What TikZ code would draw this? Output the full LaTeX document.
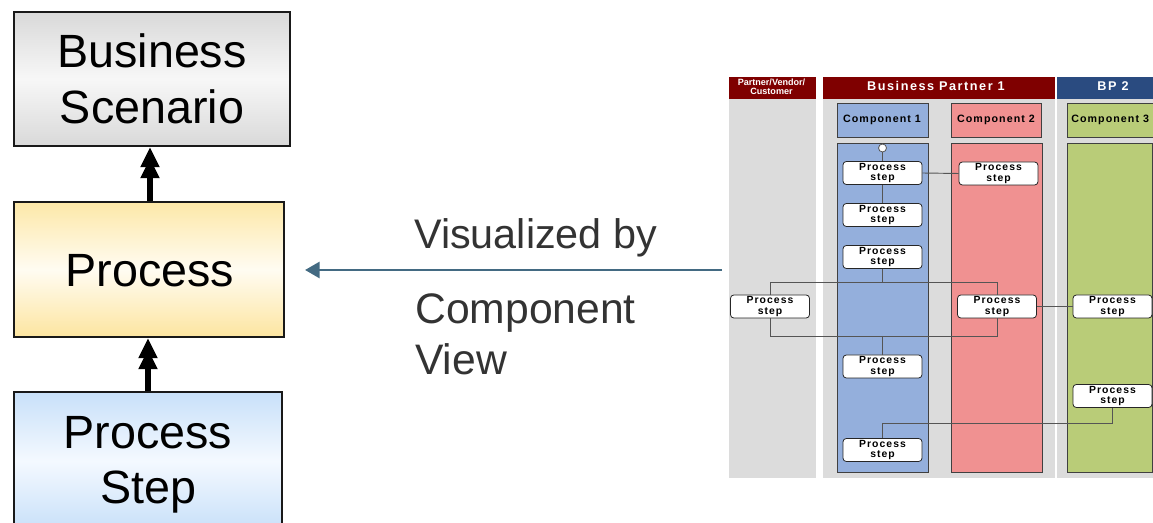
\documentclass[tikz,border=0pt]{standalone}
\usepackage{fontspec}
\setmainfont{Liberation Sans}
\newfontfamily\spacedfont[LetterSpace=10]{Liberation Sans}
\newfontfamily\hdrfont[LetterSpace=12]{Liberation Sans}
\usetikzlibrary{arrows.meta}
\definecolor{hdrred}{HTML}{7F0000}
\definecolor{hdrblue}{HTML}{2A4B80}
\definecolor{lanegray}{HTML}{DCDCDC}
\definecolor{compblue}{HTML}{94AFDC}
\definecolor{compred}{HTML}{F09191}
\definecolor{compgreen}{HTML}{B9CC78}
\definecolor{vizblue}{HTML}{436A82}
\definecolor{txtgray}{HTML}{333333}
\definecolor{linegray}{HTML}{555555}
\begin{document}
\begin{tikzpicture}[x=0.75pt,y=-0.75pt,
  bigbox/.style={draw=black!90, line width=1.8pt, inner sep=0pt},
  bigtext/.style={anchor=base, inner sep=0pt, font=\fontsize{35}{42}\selectfont},
  midtext/.style={anchor=base west, text=txtgray, inner sep=0pt},
  hierarrow/.style={line width=4.3pt, -{Triangle[length=15pt,width=13.5pt,sep=-6.75pt]Triangle[length=15pt,width=13.5pt]}},
  vizarrow/.style={draw=vizblue, line width=2.2pt, -{Triangle[length=11pt,width=12pt]}},
  pstep/.style={draw=black!85, fill=white, rounded corners=2.5pt, line width=0.6pt,
    minimum width=59.25pt, minimum height=17.25pt, inner sep=0pt, align=center,
    font=\spacedfont\bfseries\fontsize{7.8}{7.6}\selectfont},
  comphdr/.style={draw=black!75, line width=0.6pt},
  comptext/.style={font=\spacedfont\bfseries\fontsize{8}{9}\selectfont, inner sep=0pt},
  conn/.style={draw=linegray, line width=0.7pt},
  hdrtext/.style={text=white, font=\hdrfont\bfseries\fontsize{9.5}{10}\selectfont, inner sep=0pt}
]
\useasboundingbox (0,0) rectangle (1153,523);
\clip (0,0) rectangle (1153,523);

% ---------- left hierarchy ----------
\node[bigbox, minimum width=207pt, minimum height=100.5pt,
  top color=black!15, bottom color=black!15, middle color=black!3] (bs) at (152,79) {};
\node[bigtext] (bst1) at (152,68) {Business};
\node[bigtext] (bst2) at (152,124) {Scenario};

\node[bigbox, minimum width=202.5pt, minimum height=101.25pt,
  top color={rgb,255:red,253;green,232;blue,168}, bottom color={rgb,255:red,253;green,229;blue,160},
  middle color={rgb,255:red,255;green,252;blue,242}] (proc) at (149,269.5) {};
\node[bigtext] (proct) at (150,287) {Process};

\node[bigbox, minimum width=201pt, minimum height=103.5pt,
  top color={rgb,255:red,200;green,224;blue,249}, bottom color={rgb,255:red,200;green,224;blue,249},
  middle color={rgb,255:red,244;green,249;blue,255}] (pst) at (148,461) {};
\node[bigtext] (pstt1) at (148,449) {Process};
\node[bigtext] (pstt2) at (148,504) {Step};

\draw[hierarrow] (proc.north -| 150,0) -- (bs.south -| 150,0);
\draw[hierarrow] (pst.north -| 148,0) -- (proc.south -| 148,0);

% ---------- middle arrow ----------
\coordinate (vstart) at (722,270);
\coordinate (vend) at (305,270);
\draw[vizarrow] (vstart) -- (vend);
\node[midtext, font=\fontsize{31}{36}\selectfont] (vis) at (414,249) {Visualized by};
\node[midtext, font=\fontsize{32}{38}\selectfont] (cv1) at (415,324) {Component};
\node[midtext, font=\fontsize{32}{38}\selectfont] (cv2) at (415,375) {View};

% ---------- component view ----------
% lanes
\fill[lanegray] (729,99) rectangle (816,478);
\fill[lanegray] (823,99) rectangle (1055,478);
\fill[lanegray] (1057,99) rectangle (1160,478);
% headers
\fill[hdrred] (729,77) rectangle (816,99);
\fill[hdrred] (823,77) rectangle (1055,99);
\fill[hdrblue] (1057,77) rectangle (1160,99);
\node[text=white, align=center, inner sep=0pt, font=\bfseries\fontsize{6.8}{6.6}\selectfont] (h0) at (771.5,86.5) {Partner/Vendor/\\Customer};
\node[hdrtext] (h1) at (936,86) {Business Partner 1};
\node[hdrtext] (h2) at (1113,86) {BP 2};
% component headers
\draw[comphdr, fill=compblue] (837,103) rectangle (928,137);
\node[comptext] (c1h) at (882,120) {Component 1};
\draw[comphdr, fill=compred] (951,103) rectangle (1041,137);
\node[comptext] (c2h) at (996,120) {Component 2};
\draw[comphdr, fill=compgreen] (1067,103) rectangle (1165,137);
\node[comptext, anchor=west] (c3h) at (1071,120) {Component 3};
% component columns
\draw[comphdr, fill=compblue] (837,143) rectangle (928,472);
\draw[comphdr, fill=compred] (951,143) rectangle (1042,472);
\draw[comphdr, fill=compgreen] (1067,143) rectangle (1152.5,472);

% process steps
\node[pstep] (s1) at (882.5,173) {Process\\step};
\node[pstep] (s2) at (882.5,215) {Process\\step};
\node[pstep] (s3) at (882.5,257) {Process\\step};
\node[pstep] (s4) at (882.5,366.5) {Process\\step};
\node[pstep] (s5) at (882.5,450) {Process\\step};
\node[pstep] (c2a) at (998.5,173.5) {Process\\step};
\node[pstep] (c2b) at (997,306.5) {Process\\step};
\node[pstep] (p1) at (770,306.5) {Process\\step};
\node[pstep] (c3a) at (1112.5,306.5) {Process\\step};
\node[pstep] (c3b) at (1112.5,396) {Process\\step};
\node[draw=linegray, fill=white, circle, inner sep=0pt, minimum size=6pt, line width=0.6pt] (start) at (882.5,148) {};

% connectors
\coordinate (jl) at (770,282);
\coordinate (jm) at (882.5,282);
\coordinate (jr) at (997,282);
\coordinate (kl) at (770,336);
\coordinate (km) at (882.5,336);
\coordinate (kr) at (997,336);
\coordinate (ll) at (882.5,423);
\coordinate (lr) at (1112.5,423);
\draw[conn] (start) -- (s1);
\draw[conn] (s1) -- (s2);
\draw[conn] (s1.east) -- (c2a.west);
\draw[conn] (s3.south) -- (jm);
\draw[conn] (p1.north) -- (jl) -- (jr) -- (c2b.north);
\draw[conn] (p1.south) -- (kl) -- (kr) -- (c2b.south);
\draw[conn] (km) -- (s4.north);
\draw[conn] (c2b.east) -- (c3a.west);
\draw[conn] (c3b.south) -- (lr) -- (ll) -- (s5.north);
\end{tikzpicture}
\end{document}
